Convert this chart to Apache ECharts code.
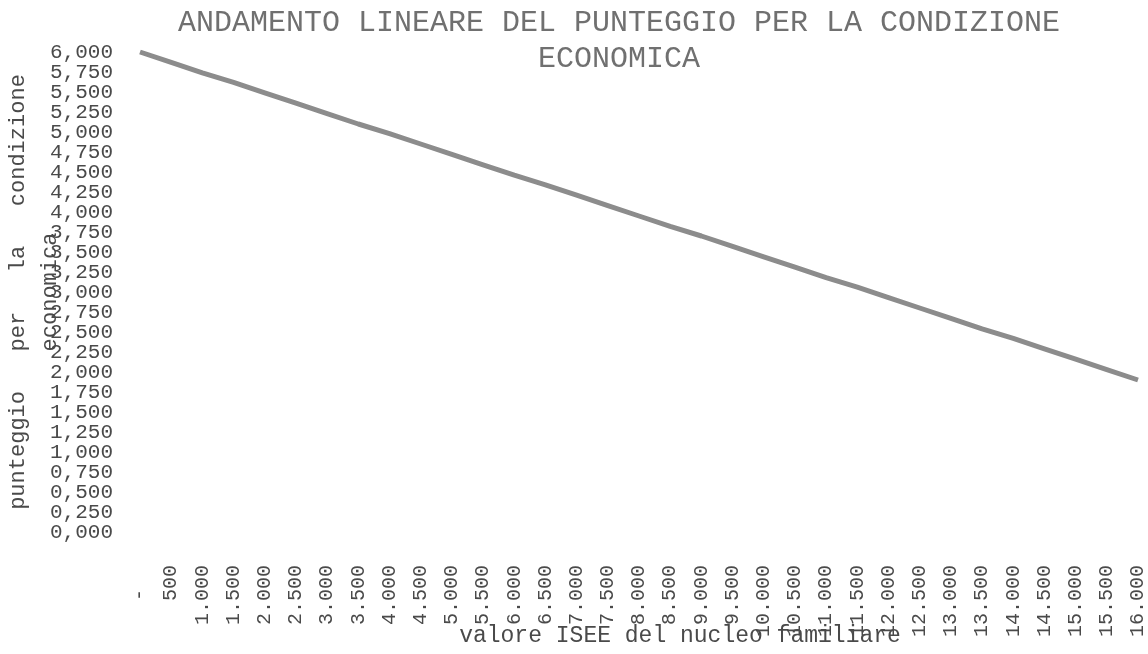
<!DOCTYPE html>
<html>
<head>
<meta charset="utf-8">
<script src="https://cdn.jsdelivr.net/npm/echarts@6/dist/echarts.min.js"></script>
<style>
  html, body { margin: 0; padding: 0; background: #fff; }
  #chart { width: 1148px; height: 654px; }
</style>
</head>
<body>
<div id="chart"></div>
<script>
// ── Data ───────────────────────────────────────────────────────────────
const iseeLabels = [
  "-  ", "500", "1.000", "1.500", "2.000", "2.500", "3.000", "3.500", "4.000",
  "4.500", "5.000", "5.500", "6.000", "6.500", "7.000", "7.500", "8.000",
  "8.500", "9.000", "9.500", "10.000", "10.500", "11.000", "11.500", "12.000",
  "12.500", "13.000", "13.500", "14.000", "14.500", "15.000", "15.500", "16.000",
];
const punteggio = [
  6.00, 5.87, 5.74, 5.62, 5.49, 5.36, 5.23, 5.10, 4.98,
  4.85, 4.72, 4.59, 4.46, 4.34, 4.21, 4.08, 3.95,
  3.82, 3.70, 3.57, 3.44, 3.31, 3.18, 3.06, 2.93,
  2.80, 2.67, 2.54, 2.42, 2.29, 2.16, 2.03, 1.90,
];
const yMin = 0;
const yMax = 6;
const yStep = 0.25;

const MONO = '"Liberation Mono", "Courier New", monospace';
const fmtComma = (v) => v.toFixed(3).replace(".", ",");
const yLabelStyle = {
  margin: 27,
  fontFamily: MONO,
  fontSize: 21,
  color: "#4a4a4a",
  formatter: fmtComma,
};
const chart = echarts.init(document.getElementById("chart"));

chart.setOption({
  animation: false,
  title: {
    text: "ANDAMENTO LINEARE DEL PUNTEGGIO PER LA CONDIZIONE\nECONOMICA",
    left: 614,
    top: 0,
    textAlign: "center",
    textStyle: {
      fontFamily: MONO,
      fontSize: 30,
      fontWeight: "normal",
      color: "#707070",
      lineHeight: 36,
    },
  },
  grid: { left: 140, right: 10, top: 52, bottom: 122, outerBoundsMode: "none" },
  xAxis: {
    type: "category",
    data: iseeLabels,
    boundaryGap: false,
    axisLine: { show: false },
    axisTick: { show: false },
    splitLine: { show: false },
    axisLabel: {
      rotate: 90,
      interval: 0,
      margin: 33,
      hideOverlap: false,
      fontFamily: MONO,
      fontSize: 20,
      color: "#4a4a4a",
    },
    name: "valore ISEE del nucleo familiare",
    nameLocation: "middle",
    nameGap: 92,
    nameMoveOverlap: false,
    nameTextStyle: {
      fontFamily: MONO,
      fontSize: 23,
      color: "#4a4a4a",
      padding: [0, 0, 0, 82],
    },
  },
  yAxis: [
    {
      // inner ticks 0,250 … 5,750 (min/max drawn by the second axis)
      type: "value",
      min: yMin,
      max: yMax,
      interval: yStep,
      position: "left",
      axisLine: { show: false },
      axisTick: { show: false },
      splitLine: { show: false },
      axisLabel: { ...yLabelStyle, showMinLabel: false, showMaxLabel: false },
      name: "punteggio   per   la   condizione\neconomica",
      nameLocation: "middle",
      nameRotate: 90,
      nameGap: 74,
      nameMoveOverlap: false,
      nameTextStyle: {
        fontFamily: MONO,
        fontSize: 22,
        color: "#4a4a4a",
        lineHeight: 32,
      },
    },
    {
      // end labels 0,000 and 6,000
      type: "value",
      min: yMin,
      max: yMax,
      interval: yMax - yMin,
      position: "left",
      offset: 0,
      axisLine: { show: false },
      axisTick: { show: false },
      splitLine: { show: false },
      axisLabel: { ...yLabelStyle, showMinLabel: true, showMaxLabel: true },
    },
  ],
  series: [
    {
      type: "line",
      data: punteggio,
      symbol: "none",
      lineStyle: { color: "#8c8c8c", width: 5 },
    },
  ],
});
</script>
</body>
</html>
